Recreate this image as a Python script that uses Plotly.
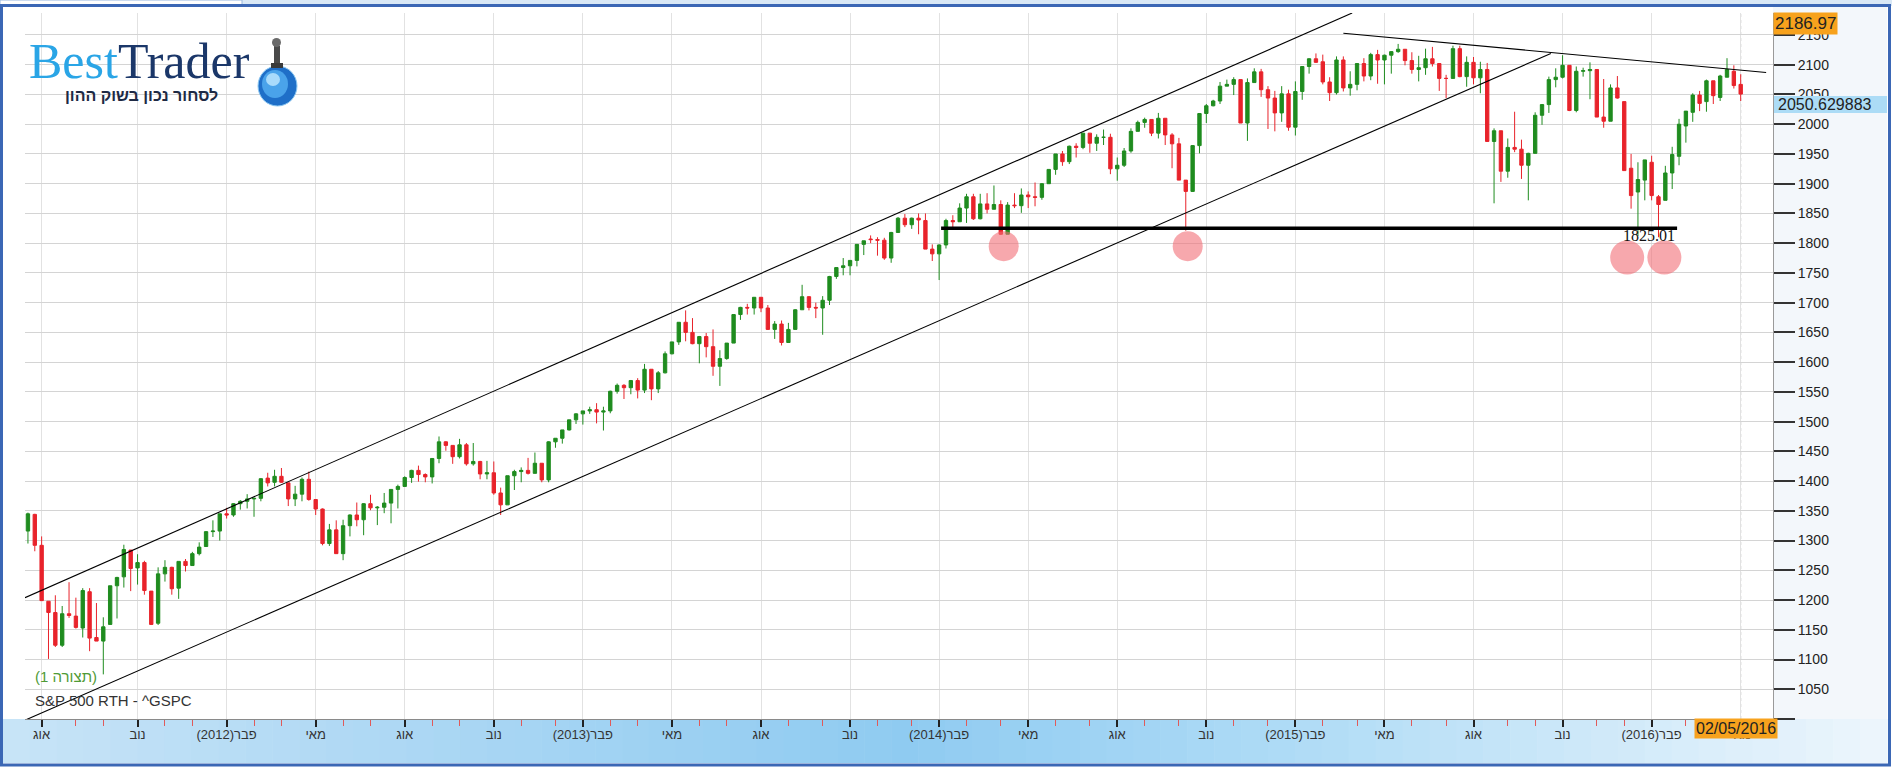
import plotly.graph_objects as go
import pandas as pd

# ---------------- data: weekly S&P 500 candles (week starting Monday) ----------------
weeks = pd.date_range('2011-07-18', periods=251, freq='7D')

open_2011 = [1316,1344,1292,1198,1179,1124,1177,1173,1153,1214,1137,1131,1159,1224,1239,1284,1254,1263,1215,1161,1244,1255,1220,1265]
high_2011 = [1347,1345,1307,1198,1208,1190,1230,1204,1220,1220,1195,1171,1224,1239,1293,1284,1277,1266,1215,1255,1267,1256,1265,1269]
low_2011  = [1295,1282,1199,1101,1121,1121,1170,1152,1137,1114,1131,1075,1159,1169,1221,1215,1226,1209,1158,1158,1231,1209,1202,1248]
close_2011= [1345,1292,1199,1179,1124,1177,1174,1154,1216,1136,1131,1155,1224,1238,1285,1253,1263,1216,1159,1244,1255,1219,1265,1258]

open_2012 = [1258,1278,1290,1315,1316, 1345,1343,1362,1366, 1370,1371,1405,1398, 1408,1397,1370,1378,1403,
             1369,1353,1295,1318, 1278,1325,1343,1335, 1362,1355,1356,1363,1386, 1391,1406,1418,1411,
             1407,1438,1466,1460, 1441,1461,1429,1433,1412, 1414,1380,1360,1409, 1416,1418,1413,1430,1402]
high_2012 = [1281,1297,1316,1334,1345, 1355,1363,1368,1378, 1372,1405,1414,1419, 1422,1397,1392,1406,1416,
             1369,1354,1328,1334, 1335,1344,1364,1363, 1377,1358,1380,1386,1394, 1408,1419,1426,1413,
             1438,1475,1467,1460, 1471,1464,1464,1434,1434, 1433,1389,1409,1419, 1423,1439,1448,1430,1467]
low_2012  = [1258,1275,1290,1306,1300, 1337,1340,1352,1354, 1340,1366,1391,1391, 1397,1358,1358,1366,1367,
             1343,1292,1291,1278, 1267,1307,1324,1309, 1351,1326,1346,1329,1354, 1391,1397,1399,1398,
             1396,1430,1451,1429, 1438,1426,1426,1403,1403, 1377,1343,1360,1385, 1398,1411,1413,1398,1398]
close_2012= [1278,1289,1315,1316,1345, 1343,1362,1366,1370, 1371,1404,1397,1408, 1398,1370,1378,1403,1369,
             1353,1295,1318,1278, 1325,1343,1335,1362, 1355,1356,1363,1386,1391, 1406,1418,1411,1407,
             1438,1466,1460,1441, 1461,1429,1433,1412,1414, 1380,1360,1409,1416, 1418,1413,1430,1402,1466]

open_2013 = [1466,1472,1486,1503, 1513,1518,1520,1516, 1518,1551,1561,1557, 1569,1553,1588,1555,1582,
             1614,1634,1667,1650, 1631,1643,1626,1593, 1606,1632,1680,1692,1691, 1709,1691,1655,1664,
             1633,1655,1688,1710,1692, 1691,1704,1744,1759, 1762,1771,1798,1807, 1806,1805,1775,1818,1842]
high_2013 = [1472,1485,1503,1514, 1518,1525,1531,1525, 1552,1564,1563,1570, 1573,1597,1588,1585,1618,
             1634,1667,1687,1674, 1644,1649,1655,1620, 1632,1680,1693,1698,1709, 1709,1696,1669,1670,
             1666,1689,1730,1711,1700, 1711,1745,1759,1775, 1771,1798,1804,1813, 1810,1809,1819,1844,1849]
low_2013  = [1456,1463,1485,1496, 1495,1513,1497,1485, 1514,1547,1538,1546, 1539,1548,1536,1548,1581,
             1613,1629,1635,1630, 1598,1608,1577,1560, 1604,1632,1671,1680,1680, 1684,1654,1639,1628,
             1633,1655,1688,1687,1674, 1646,1696,1740,1746, 1746,1761,1780,1800, 1779,1772,1767,1818,1827]
close_2013= [1472,1486,1503,1513, 1518,1520,1516,1518, 1551,1561,1557,1569, 1553,1588,1555,1582,1614,
             1634,1667,1650,1631, 1643,1626,1593,1606, 1632,1680,1692,1691,1709, 1691,1655,1664,1633,
             1655,1688,1710,1692,1691, 1704,1744,1759,1762, 1771,1798,1804,1806, 1805,1775,1818,1842,1831]

open_2014 = [1831,1842,1838,1790, 1782,1797,1838,1836, 1859,1878,1841,1866,1857, 1865,1815,1864,1863,
             1881,1878,1877,1900, 1924,1950,1937,1963,1961, 1985,1968,1978,1978, 1925,1931,1955,1988,
             2003,2008,1985,2010,1982, 1967,1906,1887,1964, 2018,2031,2039,2064, 2067,2075,2002,2070,2088]
high_2014 = [1843,1850,1850,1798, 1798,1841,1847,1867, 1883,1883,1883,1884,1897, 1872,1869,1884,1892,
             1887,1902,1901,1924, 1950,1955,1964,1968,1985, 1985,1983,1991,1984, 1944,1960,1993,2006,
             2011,2008,2019,2010,1985, 1977,1906,1965,2018, 2034,2041,2071,2075, 2079,2075,2077,2094,2093]
low_2014  = [1824,1815,1790,1770, 1738,1791,1824,1836, 1834,1839,1840,1850,1857, 1814,1815,1859,1851,
             1859,1862,1873,1900, 1915,1930,1933,1944,1958, 1952,1955,1965,1916, 1905,1928,1952,1988,
             1994,1980,1976,1965,1926, 1906,1821,1886,1951, 2002,2030,2034,2064, 2049,2002,1972,2070,2046]
close_2014= [1842,1839,1790,1782, 1797,1838,1836,1859, 1878,1841,1866,1857,1865, 1815,1864,1863,1881,
             1878,1877,1900,1924, 1950,1937,1963,1961,1985, 1968,1978,1978,1925, 1931,1955,1988,2003,
             2008,1985,2010,1982,1967, 1906,1887,1964,2018, 2031,2039,2064,2067, 2075,2002,2070,2088,2058]

open_2015 = [2058,2044,2019,2051, 1995,2055,2097,2110, 2105,2071,2053,2108,2061, 2067,2102,2081,2117,
             2108,2116,2122,2126, 2107,2092,2095,2110,2102, 2077,2077,2127,2080, 2104,2078,2092,1971,1989,
             1921,1961,1958,1931, 1951,2015,2033,2075, 2079,2099,2023,2089,2090, 2092,2012,2005,2061]
high_2015 = [2064,2056,2064,2058, 2072,2097,2111,2119, 2117,2079,2114,2114,2089, 2102,2111,2120,2125,
             2117,2123,2135,2126, 2121,2115,2127,2130,2102, 2083,2132,2132,2114, 2113,2105,2103,1993,1989,
             1976,2021,1974,1952, 2020,2034,2080,2094, 2116,2099,2097,2095,2104, 2092,2076,2067,2081]
low_2015  = [1992,1988,2004,1989, 1981,2041,2085,2103, 2067,2039,2050,2055,2048, 2057,2072,2074,2068,
             2067,2085,2120,2099, 2085,2072,2083,2097,2056, 2044,2077,2079,2063, 2067,2052,1971,1867,1903,
             1910,1953,1908,1872, 1951,1999,2019,2062, 2077,2022,2020,2080,2042, 2012,1994,2005,2043]
close_2015= [2044,2019,2051,1995, 2055,2097,2110,2104, 2071,2053,2108,2061,2067, 2102,2081,2117,2108,
             2116,2122,2126,2107, 2092,2095,2110,2102,2077, 2077,2127,2080,2104, 2078,2092,1971,1989,1921,
             1961,1958,1931,1951, 2015,2033,2075,2079, 2099,2023,2089,2090,2092, 2012,2005,2061,2044]

open_2016 = [2038,1926,1886,1906, 1936,1878,1872,1918,1946, 1997,2020,2049,2038, 2073,2045,2079,2089, 2067]
high_2016 = [2038,1950,1936,1940, 1947,1881,1930,1962,2009, 2022,2052,2056,2075, 2073,2083,2111,2099, 2084]
low_2016  = [1922,1858,1812,1872, 1872,1810,1872,1891,1931, 1969,2004,2022,2021, 2034,2039,2079,2060, 2039]
close_2016= [1922,1880,1907,1940, 1880,1865,1918,1949,2000, 2022,2049,2035,2073, 2048,2081,2092,2065, 2050.63]

opens = open_2011 + open_2012 + open_2013 + open_2014 + open_2015 + open_2016
highs = high_2011 + high_2012 + high_2013 + high_2014 + high_2015 + high_2016
lows = low_2011 + low_2012 + low_2013 + low_2014 + low_2015 + low_2016
closes = close_2011 + close_2012 + close_2013 + close_2014 + close_2015 + close_2016

# axis labels
major_ticks = ['2011-08-01','2011-11-07','2012-02-06','2012-05-07','2012-08-06','2012-11-05',
               '2013-02-04','2013-05-06','2013-08-05','2013-11-04','2014-02-03','2014-05-05',
               '2014-08-04','2014-11-03','2015-02-02','2015-05-04','2015-08-03','2015-11-02',
               '2016-02-01','2016-05-02']
major_labels = ['אוג','נוב','פבר(2012)','מאי','אוג','נוב','פבר(2013)','מאי','אוג','נוב',
                'פבר(2014)','מאי','אוג','נוב','פבר(2015)','מאי','אוג','נוב','פבר(2016)','מאי']
minor_ticks = ['2011-09-05','2011-10-03','2011-12-05','2012-01-02','2012-03-05','2012-04-02',
               '2012-06-04','2012-07-02','2012-09-03','2012-10-01','2012-12-03','2013-01-07',
               '2013-03-04','2013-04-01','2013-06-03','2013-07-01','2013-09-02','2013-10-07',
               '2013-12-02','2014-01-06','2014-03-03','2014-04-07','2014-06-02','2014-07-07',
               '2014-09-01','2014-10-06','2014-12-01','2015-01-05','2015-03-02','2015-04-06',
               '2015-06-01','2015-07-06','2015-09-07','2015-10-05','2015-12-07','2016-01-04',
               '2016-03-07','2016-04-04']
price_ticks = list(range(1000, 2151, 50))
price_labels = [''] + [str(v) for v in range(1050, 2151, 50)]

# drawn analysis lines (endpoints: date, price)
upper_channel_x = ['2011-07-15', '2015-04-01']
upper_channel_y = [1204, 2187]
lower_channel_x = ['2011-07-15', '2015-10-21']
lower_channel_y = [998, 2119]
resistance_x = ['2015-03-23', '2016-05-28']
resistance_y = [2153, 2087]
support_x = ['2014-02-05', '2016-02-27']
support_y = [1825.01, 1825.01]
marker_x = ['2014-04-10', '2014-10-15', '2016-01-07', '2016-02-14']
marker_y = [1795, 1795, 1776, 1776]
marker_r = [15, 15, 17, 17]

last_price = 2050.629883
axis_top = 2186.97
last_date_label = '02/05/2016'

# ---------------- layout geometry (pixels) ----------------
W, H = 1892, 771
PL, PR, PT, PB = 25, 1773, 13, 719


def fx(x):
    return (x - PL) / (PR - PL)


def fy(y):
    return (PB - y) / (PB - PT)


GREEN = '#1f8c1f'
RED = '#e8232b'

fig = go.Figure()
fig.add_trace(go.Candlestick(
    x=weeks, open=opens, high=highs, low=lows, close=closes,
    increasing=dict(line=dict(color=GREEN, width=1), fillcolor=GREEN),
    decreasing=dict(line=dict(color=RED, width=1), fillcolor=RED),
    whiskerwidth=0, showlegend=False, hoverinfo='skip'))

for xs, ys, w in [(upper_channel_x, upper_channel_y, 1.1), (lower_channel_x, lower_channel_y, 1.1),
                  (resistance_x, resistance_y, 1.1), (support_x, support_y, 3.5)]:
    fig.add_trace(go.Scatter(x=xs, y=ys, mode='lines', line=dict(color='black', width=w),
                             showlegend=False, hoverinfo='skip', cliponaxis=True))

shapes = []


def rect(x0, y0, x1, y1, fill, line=None, lw=0, layer='below'):
    shapes.append(dict(type='rect', xref='paper', yref='paper', x0=fx(x0), x1=fx(x1), y0=fy(y1), y1=fy(y0),
                       fillcolor=fill, line=dict(color=line or 'rgba(0,0,0,0)', width=lw), layer=layer))


def lerp_color(stops, x):
    for (xa, ca), (xb, cb) in zip(stops, stops[1:]):
        if xa <= x <= xb:
            t = (x - xa) / (xb - xa)
            return 'rgb(%d,%d,%d)' % tuple(round(a + (b - a) * t) for a, b in zip(ca, cb))
    return 'rgb(%d,%d,%d)' % stops[-1][1]


# top strip
rect(0, 0, W, 6, '#d9e8f6')
rect(0, 0, 242, 5, '#ffffff', '#9ab7de', 1)
# right axis panel
rect(PR, 6, 1887, PB, '#f3f7fb')
# bottom axis band gradient
band_stops = [(0, (200, 228, 247)), (350, (176, 217, 244)), (900, (143, 203, 241)),
              (1300, (176, 220, 246)), (1892, (238, 246, 252))]
N = 70
for i in range(N):
    xa = 3 + i * (1884 / N)
    xb = xa + 1884 / N + 0.6
    rect(xa, PB, xb, 763, lerp_color(band_stops, xa + 10))
# outer frame
shapes.append(dict(type='rect', xref='paper', yref='paper', x0=fx(1.5), x1=fx(1889.5), y0=fy(765), y1=fy(5.5),
                   line=dict(color='#3b67b5', width=3), fillcolor='rgba(0,0,0,0)', layer='above'))
# last date dotted line
shapes.append(dict(type='line', xref='x', yref='paper', x0='2016-05-02', x1='2016-05-02', y0=0, y1=1,
                   line=dict(color='#b0b0b0', width=1, dash='dot'), layer='below'))
# highlight circles
for mx, my, r in zip(marker_x, marker_y, marker_r):
    shapes.append(dict(type='circle', xref='x', yref='y', xsizemode='pixel', ysizemode='pixel',
                       xanchor=mx, yanchor=my, x0=-r, x1=r, y0=-r, y1=r,
                       fillcolor='rgba(242,110,118,0.6)', line=dict(width=0), layer='above'))
# current price box
rect(PR + 1, 96, 1887, 113, '#acdcf6', layer='above')

# globe logo
shapes.append(dict(type='circle', xref='paper', yref='paper', x0=fx(258), x1=fx(297), y0=fy(106), y1=fy(66),
                   fillcolor='#1f6fc8', line=dict(color='#8ec9f2', width=1), layer='above'))
shapes.append(dict(type='circle', xref='paper', yref='paper', x0=fx(262), x1=fx(288), y0=fy(98), y1=fy(70),
                   fillcolor='#4aa3ea', line=dict(width=0), layer='above'))
shapes.append(dict(type='circle', xref='paper', yref='paper', x0=fx(266), x1=fx(280), y0=fy(86), y1=fy(73),
                   fillcolor='#a9dbfb', line=dict(width=0), layer='above'))
rect(274, 46, 280, 67, '#4a4a4a', layer='above')
rect(271, 63, 283, 68, '#3a3a3a', layer='above')
shapes.append(dict(type='circle', xref='paper', yref='paper', x0=fx(272), x1=fx(281), y0=fy(47), y1=fy(38),
                   fillcolor='#6a6a6a', line=dict(width=0), layer='above'))

annotations = []


def text(x, y, s, size, color, xanchor='left', family='Arial', bg=None, yanchor='middle', pad=0):
    annotations.append(dict(xref='paper', yref='paper', x=fx(x), y=fy(y), text=s, showarrow=False,
                            xanchor=xanchor, yanchor=yanchor, font=dict(size=size, color=color, family=family),
                            bgcolor=bg, borderpad=pad))


RLE, PDF = '\u202b', '\u202c'
text(28, 61, "<span style='color:#2aa5e6'>Best</span><span style='color:#1b3769'>Trader</span>",
     50, '#1b3769', family='Liberation Serif')
text(141, 95, '<b>' + RLE + 'לסחור נכון בשוק ההון' + PDF + '</b>', 16, '#1e2a44', xanchor='center')
text(34, 676, RLE + '(תצורה 1)' + PDF, 15, '#4f9a35')
text(34, 700, 'S&P 500 RTH - ^GSPC', 15, '#333333')
text(1676, 236, '1825.01', 16, '#111111', xanchor='right', family='Liberation Serif')
text(PR, PT - 0.5, f'{axis_top:.2f}', 17, '#222222', bg='#f7a21d', yanchor='top', pad=1)
text(1777, 104.5, f'{last_price:.6f}', 16, '#222222')
text(1778, 728.5, last_date_label, 16, '#222222', xanchor='right', bg='#f7a21d', pad=1)

fig.update_layout(
    width=W, height=H, margin=dict(l=PL, r=W - PR, t=PT, b=H - PB, pad=0),
    paper_bgcolor='white', plot_bgcolor='white',
    shapes=shapes, annotations=annotations, showlegend=False,
    xaxis=dict(type='date', range=['2011-07-15', '2016-06-04'], rangeslider=dict(visible=False),
               tickmode='array', tickvals=major_ticks, ticktext=[RLE + t + PDF for t in major_labels],
               ticks='outside', ticklen=7, tickwidth=2, tickcolor='#222222', ticklabelstandoff=-4,
               tickfont=dict(size=13, color='#333333', family='Arial'),
               showgrid=True, gridcolor='#e2e2e2', gridwidth=1,
               showline=True, linecolor='#8a8a8a', linewidth=1, zeroline=False,
               minor=dict(tickmode='array', tickvals=minor_ticks, ticks='outside', ticklen=6,
                          tickcolor='#e05a5a', tickwidth=1, showgrid=False)),
    yaxis=dict(side='right', range=[1000, 2186.97], tickmode='array', tickvals=price_ticks, ticktext=price_labels,
               ticks='outside', ticklen=21, tickwidth=1.5, tickcolor='#333333',
               tickfont=dict(size=14, color='#222222', family='Arial'),
               showgrid=True, gridcolor='#d4d4d4', gridwidth=1,
               showline=True, linecolor='#9a9a9a', linewidth=1, zeroline=False),
)

fig.write_html("out.html", config={'displayModeBar': False},
               post_script="document.body.style.margin='0';document.body.style.overflow='hidden';")
